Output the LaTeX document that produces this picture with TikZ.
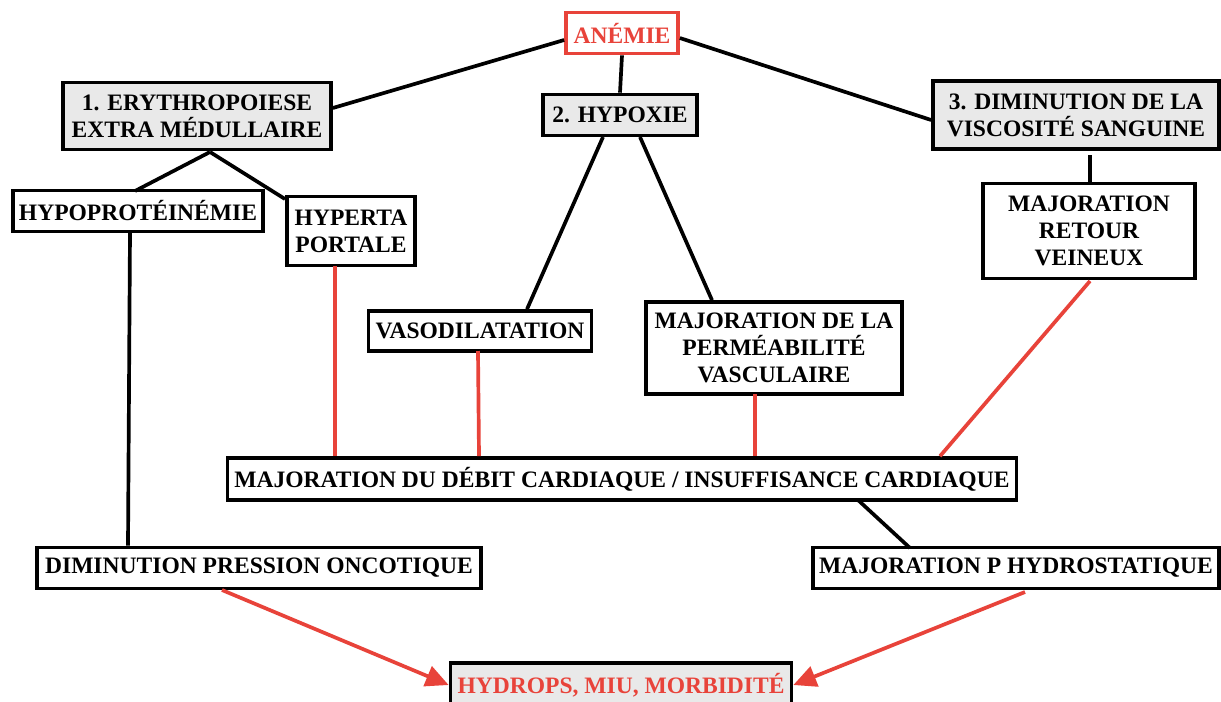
\documentclass[tikz,border=0pt]{standalone}
\usepackage{fontspec}
\setmainfont{Liberation Serif}
\usepackage{tikz}
\usetikzlibrary{arrows.meta}

\definecolor{alertred}{HTML}{E8433A}
\definecolor{boxgray}{HTML}{E9E9E9}

\begin{document}
\begin{tikzpicture}[x=0.02cm,y=-0.02cm,
    every node/.style={font=\fontsize{13.4}{15.5}\selectfont\bfseries,align=center,inner sep=0pt},
    box/.style={draw=black,line width=2.1pt,fill=white},
    graybox/.style={box,fill=boxgray},
    link/.style={line width=2.1pt},
    redlink/.style={line width=2.1pt,alertred},
    redarrow/.style={line width=2.1pt,alertred,-{Triangle[length=13pt,width=12pt]}}]
        \clip (0,0) rectangle (1221,701);
        \fill[white] (0,0) rectangle (1221,701);

        \node[box,draw=alertred,text=alertred,minimum width=112*0.02cm,minimum height=41*0.02cm] (anemie) at (622,33) {ANÉMIE};
        \node[graybox,minimum width=268*0.02cm,minimum height=67*0.02cm] (erythro) at (197,116) {1. ERYTHROPOIESE\\EXTRA MÉDULLAIRE};
        \node[graybox,minimum width=154*0.02cm,minimum height=41*0.02cm] (hypoxie) at (620,115) {2. HYPOXIE};
        \node[graybox,minimum width=286*0.02cm,minimum height=68*0.02cm] (viscosite) at (1076,115) {3. DIMINUTION DE LA\\VISCOSITÉ SANGUINE};

        \node[box,minimum width=250*0.02cm,minimum height=41*0.02cm] (hypoprot) at (138,211) {HYPOPROTÉINÉMIE};
        \node[box,minimum width=128*0.02cm,minimum height=69*0.02cm] (portale) at (351,231) {HYPERTA\\PORTALE};
        \node[box,minimum width=223*0.02cm,minimum height=40*0.02cm] (vasodil) at (480,331) {VASODILATATION};
        \node[box,minimum width=256*0.02cm,minimum height=92*0.02cm] (permea) at (774,348) {MAJORATION DE LA\\PERMÉABILITÉ\\VASCULAIRE};
        \node[box,minimum width=212*0.02cm,minimum height=95*0.02cm] (retour) at (1089,231) {MAJORATION\\RETOUR\\VEINEUX};

        \node[box,minimum width=789*0.02cm,minimum height=42*0.02cm] (debit) at (622,479) {MAJORATION DU DÉBIT CARDIAQUE / INSUFFISANCE CARDIAQUE};
        \node[box,minimum width=444*0.02cm,minimum height=41*0.02cm] (oncotique) at (259,568) {DIMINUTION PRESSION ONCOTIQUE};
        \node[box,minimum width=406*0.02cm,minimum height=41*0.02cm] (hydrostat) at (1016,568) {MAJORATION P HYDROSTATIQUE};
        \node[graybox,text=alertred,minimum width=341*0.02cm,minimum height=44*0.02cm] (hydrops) at (621,685) {HYDROPS, MIU, MORBIDITÉ};

        \coordinate (e1) at (210,152);
        \draw[link] (anemie.west |- 0,40) -- (erythro.east |- 0,108);
        \draw[link] (anemie.south) -- (hypoxie.north);
        \draw[link] (anemie.east |- 0,38) -- (viscosite.west |- 0,120);
        \draw[link] (e1) -- (135,191) (e1) -- (285,199);
        \draw[link] (130,232) -- (oncotique.north -| 128,0);
        \draw[link] (603,137) -- (vasodil.north -| 527,0);
        \draw[link] (640,137) -- (permea.north -| 712,0);
        \draw[link] (1090,155) -- (retour.north -| 1090,0);
        \draw[link] (858,500) -- (910,548);

        \draw[redlink] (335,266) -- (debit.north -| 335,0);
        \draw[redlink] (478,351) -- (debit.north -| 479,0);
        \draw[redlink] (755,394) -- (debit.north -| 755,0);
        \draw[redlink] (1090,281) -- (debit.north -| 940,0);

        \draw[redarrow] (222,590) -- (hydrops.west |- 0,685);
        \draw[redarrow] (1025,592) -- (hydrops.east |- 0,685);
\end{tikzpicture}
\end{document}
